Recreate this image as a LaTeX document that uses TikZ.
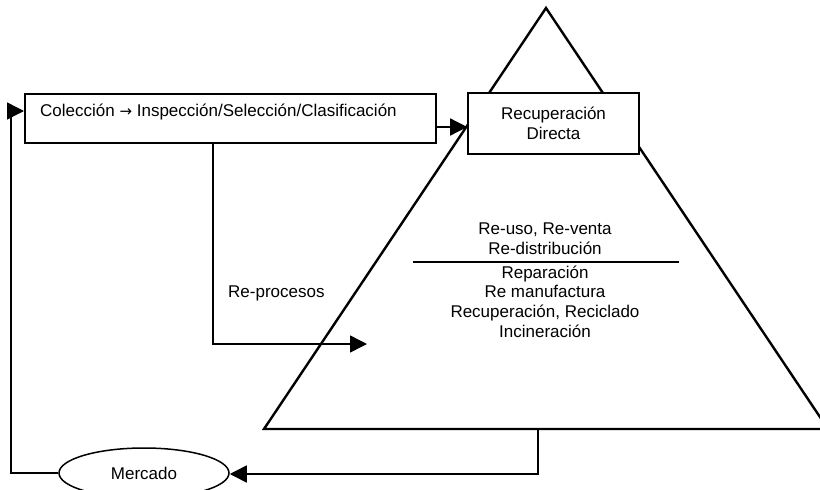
\documentclass[tikz,border=0pt]{standalone}
\usepackage{fontspec}
\setmainfont{Liberation Sans}
\newfontfamily\arrowfont{DejaVu Sans}
\usetikzlibrary{arrows.meta,shapes.geometric}
\begin{document}
\begin{tikzpicture}[x=1pt,y=-1pt,
  font=\fontsize{17}{19.7}\selectfont,
  boxst/.style={draw, line width=1.6pt, fill=white, inner sep=0pt},
  conn/.style={line width=1.5pt, -{Triangle[length=17pt,width=17pt]}},
  tri/.style={line width=2.4pt, line join=miter}]
\useasboundingbox (0,0) rectangle (820,490);
\clip (0,0) rectangle (820,490);
% pyramid
\draw[tri] (264,429) -- (546,8) -- (828,429) -- cycle;
% boxes
\node[boxst, minimum width=411pt, minimum height=49pt, anchor=north west] (col) at (24,93) {};
\node[anchor=west, inner sep=0pt] (coltxt) at (40,112) {Colección {\arrowfont\fontsize{15}{17}\selectfont →} Inspección/Selección/Clasificación};
\node[boxst, minimum width=171pt, minimum height=61pt, align=center] (rd) at (553.5,123.5) {Recuperación\\Directa};
\node[draw, ellipse, line width=1.5pt, fill=white, minimum width=170pt, minimum height=50pt, inner sep=0pt] (merc) at (144,473) {Mercado};
% texts in pyramid
\node[align=center, inner sep=0pt] (up) at (545,239) {Re-uso, Re-venta\\Re-distribución};
\node[align=center, inner sep=0pt] (low) at (545,301.5) {Reparación\\Re manufactura\\Recuperación, Reciclado\\Incineración};
\coordinate (dl) at (413,262);
\coordinate (dr) at (679,262);
\draw[line width=1.5pt] (dl) -- (dr);
\node[anchor=west, inner sep=0pt] (rptxt) at (228,293) {Re-procesos};
% connectors
\draw[conn] (col.east |- 0,127) -- (rd.west |- 0,127);
\coordinate (rp) at (367,344);
\draw[conn] (col.south -| 213,0) -- (213,344) -- (rp);
\coordinate (bs) at (538,429);
\draw[conn] (bs) -- (538,474) -- (merc.east |- 0,474);
\draw[conn] (merc.west) -- (11,473) -- (11,111) -- (col.west |- 0,111);
\end{tikzpicture}
\end{document}
